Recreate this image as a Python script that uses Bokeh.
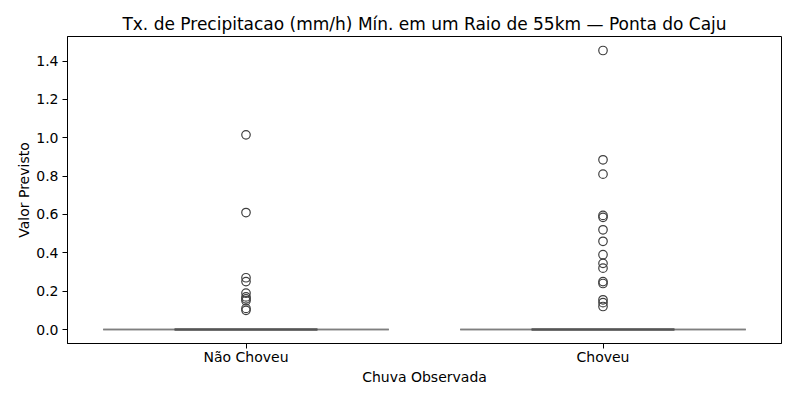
from bokeh.plotting import figure
from bokeh.models import Range1d, FixedTicker, NumeralTickFormatter, ColumnDataSource
from bokeh.embed import file_html
from bokeh.resources import INLINE

categories = ["Não Choveu", "Choveu"]
q1 = [0.0, 0.0]
median = [0.0, 0.0]
q3 = [0.0, 0.0]
whisker_low = [0.0, 0.0]
whisker_high = [0.0, 0.0]
outliers_nao = [1.015, 0.61, 0.27, 0.25, 0.19, 0.17, 0.16, 0.15, 0.11, 0.10]
outliers_sim = [1.455, 0.885, 0.81, 0.595, 0.585, 0.52, 0.46, 0.39, 0.345, 0.32,
                0.25, 0.24, 0.155, 0.14, 0.12]
y_ticks = [0.0, 0.2, 0.4, 0.6, 0.8, 1.0, 1.2, 1.4]

FONT = "DejaVu Sans"
idx = list(range(len(categories)))
box_w = 0.8
cap_w = 0.4

p = figure(frame_width=714, frame_height=307, output_backend="svg", toolbar_location=None,
           x_range=Range1d(-0.5, 1.5), y_range=Range1d(-0.073, 1.528),
           min_border_left=67, min_border_right=5, min_border_top=36, min_border_bottom=40,
           title="Tx. de Precipitacao (mm/h) Mín. em um Raio de 55km — Ponta do Caju")
p.title.align = "center"
p.title.text_font = FONT
p.title.text_font_size = "17px"
p.title.text_font_style = "normal"
p.title.text_color = "#000000"
p.title.standoff = 6
p.xgrid.visible = False
p.ygrid.visible = False
p.outline_line_color = "black"
p.outline_line_width = 1
p.background_fill_color = "white"
p.border_fill_color = "white"

src = ColumnDataSource(dict(
    left=[i - box_w / 2 for i in idx], right=[i + box_w / 2 for i in idx],
    cl=[i - cap_w / 2 for i in idx], cr=[i + cap_w / 2 for i in idx],
    x=idx, q1=q1, q3=q3, med=median, lo=whisker_low, hi=whisker_high))

# box
p.quad(left="left", right="right", bottom="q1", top="q3", source=src,
       fill_color="#3274a1", line_color="#7f7f7f", line_width=1.6)
# median
p.segment(x0="left", y0="med", x1="right", y1="med", source=src, line_color="#7f7f7f", line_width=1.6)
# whiskers
p.segment(x0="x", y0="q1", x1="x", y1="lo", source=src, line_color="#555555", line_width=1.5)
p.segment(x0="x", y0="q3", x1="x", y1="hi", source=src, line_color="#555555", line_width=1.5)
# caps
p.segment(x0="cl", y0="lo", x1="cr", y1="lo", source=src, line_color="#555555", line_width=2)
p.segment(x0="cl", y0="hi", x1="cr", y1="hi", source=src, line_color="#555555", line_width=2)

ox = [0] * len(outliers_nao) + [1] * len(outliers_sim)
oy = outliers_nao + outliers_sim
p.scatter(ox, oy, marker="circle", size=8.5, fill_color=None, line_color="#3f3f3f", line_width=1.2)

for ax in (p.xaxis[0], p.yaxis[0]):
    ax.axis_line_color = "black"
    ax.major_tick_line_color = "black"
    ax.major_tick_out = 5
    ax.major_tick_in = 0
    ax.minor_tick_line_color = None
    ax.major_label_text_font = FONT
    ax.major_label_text_font_size = "14px"
    ax.major_label_text_color = "#000000"
    ax.axis_label_text_font = FONT
    ax.axis_label_text_font_size = "14px"
    ax.axis_label_text_font_style = "normal"
    ax.axis_label_text_color = "#000000"

p.xaxis.ticker = FixedTicker(ticks=idx)
p.xaxis.major_label_overrides = {i: c for i, c in zip(idx, categories)}
p.xaxis.axis_label = "Chuva Observada"
p.xaxis.major_label_standoff = 0
p.xaxis.axis_label_standoff = 1
p.yaxis.ticker = FixedTicker(ticks=y_ticks)
p.yaxis.formatter = NumeralTickFormatter(format="0.0")
p.yaxis.axis_label = "Valor Previsto"
p.yaxis.major_label_standoff = 4
p.yaxis.axis_label_standoff = 1

open("out.html", "w").write(file_html(p, INLINE))
